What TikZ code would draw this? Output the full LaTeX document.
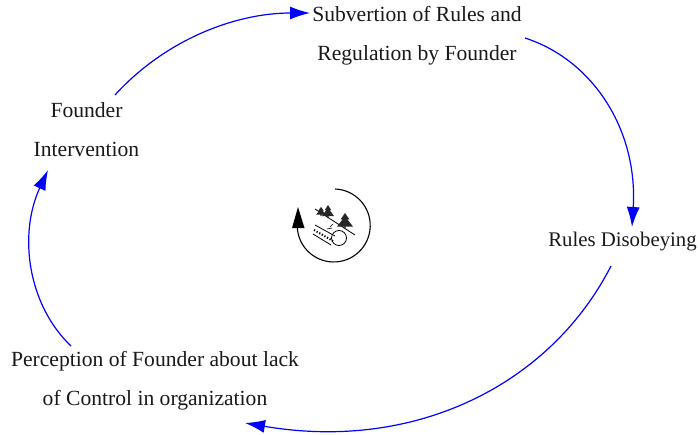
\documentclass[tikz,border=0pt]{standalone}
\usepackage{fontspec}
\setmainfont{Liberation Serif}
\usetikzlibrary{arrows.meta}
\tikzset{
  lbl/.style={align=center,inner sep=0pt,minimum height=10pt,text=black!90,font=\fontsize{21.6}{39}\selectfont},
  link/.style={draw=blue,line width=1.2pt,-{Latex[length=20pt,width=13pt,fill=blue]}},
  icon/.style={line width=1.1pt,black},
  tree/.style={fill=black!85,draw=none}
}
% centre x, top y, half width, height
\newcommand{\pine}[4]{%
  \fill[tree] (#1,#2) -- (#1+#3*.55,#2+#4*.4) -- (#1+#3*.3,#2+#4*.4) -- (#1+#3,#2+#4*.85) -- (#1+.7,#2+#4*.85) -- (#1+.7,#2+#4) -- (#1-.7,#2+#4) -- (#1-.7,#2+#4*.85) -- (#1-#3,#2+#4*.85) -- (#1-#3*.3,#2+#4*.4) -- (#1-#3*.55,#2+#4*.4) -- cycle;}
\begin{document}
\begin{tikzpicture}[x=1pt,y=-1pt]
\useasboundingbox (0,0) rectangle (699,434);
\node[lbl] (sub) at (417,35.5) {Subvertion of Rules and\\Regulation by Founder};
\node[lbl,font=\fontsize{20.8}{39}\selectfont] (rul) at (622.5,241.5) {Rules Disobeying};
\node[lbl] (per) at (155,381) {Perception of Founder about lack\\of Control in organization};
\node[lbl] (fou) at (86.5,130) {Founder\\Intervention};
\coordinate (a1) at (115,95);
\coordinate (a2) at (310,13);
\coordinate (b1) at (525,38);
\coordinate (b2) at (632,227);
\coordinate (c1) at (611,266);
\coordinate (c2) at (245,423);
\coordinate (d1) at (71,346);
\coordinate (d2) at (48,170);
\draw[link] (a1) .. controls (165,40) and (235,13) .. (a2);
\draw[link] (b1) .. controls (593,60) and (638,130) .. (b2);
\draw[link] (c1) .. controls (550,385) and (415,452) .. (c2);
\draw[link] (d1) .. controls (28,305) and (18,235) .. (d2);
% loop icon
\draw[icon] (335,189) arc[start angle=-88,end angle=178,radius=36.5];
\fill[black] (298,207) -- (304.5,228) -- (292,228) -- cycle;
\draw[line width=0.8pt] (315,209) -- (355,235);
\pine{321}{207}{5}{9}
\pine{328}{205}{6}{13}
\pine{345}{213}{8}{16}
\draw[line width=0.8pt] (339,238) circle[radius=7.5];
\draw[line width=0.8pt] (315,225) -- (335,236);
\draw[line width=0.8pt] (313,234) -- (331,245);
\draw[line width=2pt,dash pattern=on 1.2pt off 1.8pt] (314,230) -- (333,241);
\draw[line width=0.6pt] (330,227) -- (333,224);
\draw[line width=0.6pt] (327,229) -- (332,228);
\end{tikzpicture}
\end{document}
